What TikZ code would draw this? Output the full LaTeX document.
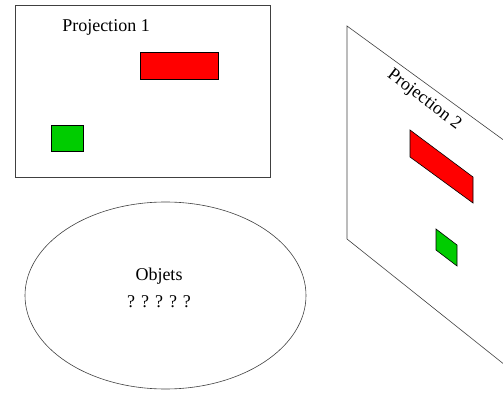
\documentclass[tikz,border=0pt]{standalone}
\usepackage{fontspec}
\setmainfont{Liberation Serif}
\usepackage{xcolor}
\usepackage{tikz}
\definecolor{objred}{HTML}{FF0000}
\definecolor{objgreen}{HTML}{00CC00}
\tikzset{
  plane/.style = {draw=black!75, line width=0.6pt},
  objr/.style  = {draw=black, fill=objred, line width=0.6pt},
  objg/.style  = {draw=black, fill=objgreen, line width=0.6pt},
  lbl/.style   = {font=\fontsize{18}{20}\selectfont, inner sep=0pt},
}
\begin{document}
\begin{tikzpicture}[x=1pt, y=-1pt]
  \useasboundingbox (0,0) rectangle (503,395);
  \clip (0,0) rectangle (503,395);
  % projection 1 (front view)
  \draw[plane] (15,5) rectangle (270,177);
  \node[lbl] (p1) at (106,27) {Projection 1};
  \draw[objr] (140,52) rectangle (218,79);
  \draw[objg] (51,125) rectangle (83,151);
  % projection 2 (slanted plane)
  \draw[plane] (347,26) -- (347,239) -- (520,377) -- (520,152) -- cycle;
  \node[lbl, rotate=-37] (p2) at (424,100) {Projection 2};
  \draw[objr] (410,130) -- (410,157) -- (473,203) -- (473,177) -- cycle;
  \draw[objg] (436,229) -- (436,250) -- (457,266) -- (457,245) -- cycle;
  % objects
  \draw[plane] (165.5,295.5) ellipse [x radius=140.5pt, y radius=93.5pt];
  \node[lbl] (obj) at (159,276) {Objets};
  \node[lbl] (qm) at (159,302) {? ? ? ? ?};
\end{tikzpicture}
\end{document}
